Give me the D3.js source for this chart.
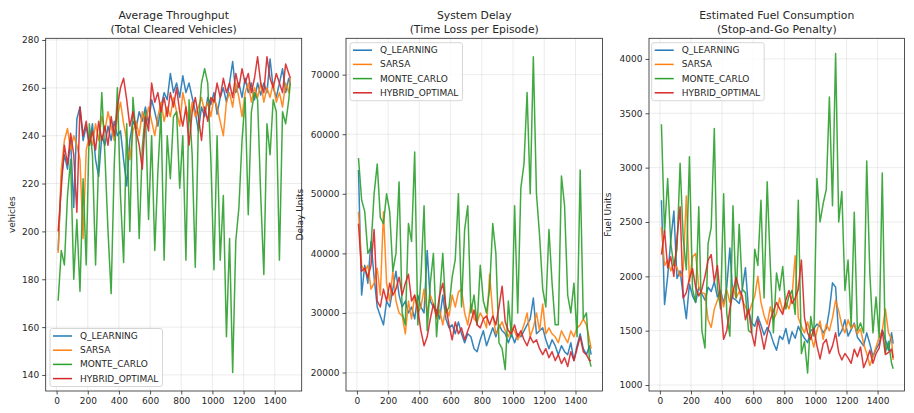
<!DOCTYPE html>
<html>
<head>
<meta charset="utf-8">
<script src="https://cdn.jsdelivr.net/npm/d3@7"></script>
<style>
  body { margin: 0; background: #fff; }
  svg { display: block; }
  text { font-family: "DejaVu Sans", sans-serif; fill: #262626; }
</style>
</head>
<body>
<svg id="chart" width="914" height="413"></svg>
<script>
// ------------- DATA (every 20 episodes) ------------- //
var episodes = [10, 30, 50, 70, 90, 110, 130, 150, 170, 190, 210, 230, 250, 270, 290, 310, 330, 350, 370, 390,
  410, 430, 450, 470, 490, 510, 530, 550, 570, 590, 610, 630, 650, 670, 690, 710, 730, 750, 770, 790,
  810, 830, 850, 870, 890, 910, 930, 950, 970, 990, 1010, 1030, 1050, 1070, 1090, 1110, 1130, 1150, 1170, 1190,
  1210, 1230, 1250, 1270, 1290, 1310, 1330, 1350, 1370, 1390, 1410, 1430, 1450, 1470, 1490, 1500];

var agents = ["Q_LEARNING", "SARSA", "MONTE_CARLO", "HYBRID_OPTIMAL"];
var agentColors = ["#1f77b4", "#ff7f0e", "#2ca02c", "#d62728"];

var throughputQ = [192, 222, 232, 226, 238, 210, 247, 252, 238, 244, 236, 245, 230, 223, 240, 236, 244, 238, 246, 240,
  242, 230, 219, 238, 246, 243, 250, 246, 252, 245, 255, 250, 244, 252, 258, 255, 266, 258, 262, 256,
  265, 258, 262, 256, 250, 242, 252, 248, 256, 253, 258, 249, 256, 260, 254, 262, 271, 258, 262, 256,
  264, 258, 262, 255, 262, 257, 262, 258, 272, 260, 256, 262, 268, 258, 264, 262];
var throughputSarsa = [191, 226, 238, 243, 234, 240, 236, 230, 197, 234, 240, 236, 245, 238, 248, 242, 250, 244, 238, 248,
  254, 245, 238, 230, 242, 246, 240, 250, 244, 252, 246, 240, 248, 254, 246, 252, 248, 256, 250, 244,
  258, 252, 246, 254, 248, 252, 256, 250, 254, 248, 256, 252, 246, 240, 254, 258, 252, 262, 256, 248,
  258, 262, 254, 260, 256, 262, 254, 260, 256, 262, 254, 258, 252, 262, 258, 264];
var throughputMC = [171, 192, 186, 215, 230, 180, 205, 175, 222, 186, 245, 232, 186, 230, 258, 232, 200, 174, 228, 260,
  215, 187, 245, 200, 256, 240, 197, 235, 250, 205, 240, 192, 225, 250, 188, 240, 222, 248, 250, 218,
  240, 188, 255, 232, 185, 245, 262, 268, 262, 230, 184, 240, 188, 215, 156, 197, 141, 196, 210, 238,
  256, 207, 250, 258, 255, 215, 182, 245, 232, 255, 250, 188, 250, 245, 255, 262];
var throughputHybrid = [200, 218, 236, 228, 241, 232, 208, 252, 240, 246, 236, 242, 234, 246, 238, 244, 236, 248, 240, 252,
  260, 264, 255, 244, 250, 242, 236, 226, 248, 242, 262, 254, 258, 250, 256, 248, 258, 252, 260, 250,
  244, 252, 236, 250, 256, 248, 238, 252, 246, 256, 254, 262, 256, 264, 258, 262, 256, 266, 260, 268,
  262, 266, 258, 264, 273, 262, 258, 273, 264, 260, 266, 262, 258, 270, 266, 264];

var delayQ = [54000, 33000, 38000, 35000, 42000, 36000, 31000, 29500, 28000, 32000, 31000, 34000, 37000, 33000, 31000, 32000, 30000, 31000, 29000, 33000,
  31000, 30000, 40500, 32000, 31000, 30500, 29000, 33000, 29000, 27500, 28000, 26500, 28500, 26500, 25000, 26500, 26000, 24000, 23500, 25500,
  27000, 24500, 26000, 27500, 26000, 28000, 27000, 26500, 25000, 26500, 25000, 26500, 26000, 27000, 28000, 29000, 32500, 26500, 27000, 27500,
  25500, 24000, 25500, 24500, 23000, 24500, 23500, 23000, 25000, 22000, 24500, 26500, 24000, 23000, 24500, 23000];
var delaySarsa = [47000, 38000, 37000, 38000, 34000, 35000, 37500, 33000, 47000, 35000, 32000, 37000, 32000, 30000, 29500, 26500, 32000, 29000, 33000, 30000,
  31000, 34000, 30000, 33000, 31500, 29000, 30500, 28000, 31000, 29500, 33000, 31000, 33500, 34000, 30000, 28000, 31500, 29000, 28500, 30000,
  29000, 27500, 36500, 30000, 26500, 27500, 28500, 27000, 26000, 27500, 27000, 25500, 26500, 28000, 30000, 26000, 27500, 30000, 27000, 31500,
  26500, 27500, 26500, 26000, 25000, 27000, 26000, 25000, 27000, 26000, 27500, 28000, 29000, 28000, 25500, 24000];
var delayMC = [56000, 49000, 47000, 40000, 41000, 50000, 55000, 46000, 45000, 50000, 47000, 37000, 40000, 52000, 30000, 28000, 45000, 42000, 57000, 28000,
  36000, 48000, 27000, 35000, 40000, 26000, 33000, 40000, 30000, 31000, 36000, 39000, 50000, 31000, 44000, 48000, 30000, 33000, 28000, 38000,
  32000, 30000, 34000, 45000, 40000, 25000, 24000, 20500, 32000, 26000, 48000, 30000, 51000, 55000, 67000, 50000, 73000, 50000, 43000, 34000,
  31000, 44000, 35000, 28000, 28000, 53000, 48000, 33000, 30000, 35000, 26000, 54000, 29000, 30000, 22000, 21000];
var delayHybrid = [45000, 37000, 37500, 36000, 38000, 44000, 32000, 31000, 34000, 32000, 35000, 33000, 34000, 36000, 33000, 35000, 36500, 32000, 33000, 30500,
  27000, 24500, 26000, 29000, 31500, 29500, 33000, 35000, 31000, 28000, 25500, 28500, 26500, 27500, 25500, 27000, 28500, 30500, 28000, 27500,
  29000, 29500, 28000, 29500, 28000, 31000, 34500, 28500, 27000, 26500, 28000, 26000, 27000, 25500, 24500, 26000, 25000, 25500, 24000, 23000,
  24000, 22500, 23500, 22000, 23000, 21500, 22500, 21000, 23500, 22000, 24000, 26000, 23500, 23000, 22000, 22000];

var fuelQ = [2700, 1740, 2000, 2330, 2600, 1980, 2050, 1820, 1610, 1930, 1820, 1760, 1900, 1840, 1780, 1900, 1860, 1950, 1810, 1870,
  1750, 1900, 2260, 1800, 1780, 1750, 1880, 2080, 1690, 1570, 1540, 1630, 1550, 1460, 1530, 1480, 1390, 1320, 1450, 1420,
  1520, 1380, 1490, 1430, 1540, 1480, 1430, 1390, 1500, 1520, 1560, 1540, 1480, 1520, 1690, 1940, 1900, 1450, 1500, 1600,
  1450, 1510, 1570, 1440, 1400, 1360, 1480, 1380, 1260, 1330, 1380, 1510, 1420, 1320, 1480, 1380];
var fuelSarsa = [2450, 2100, 2150, 2050, 2120, 2080, 2000, 2060, 2740, 1950, 2180, 2210, 1900, 1850, 1840, 1600, 1530, 1700, 1780, 1850,
  1720, 1880, 1760, 1900, 1800, 1860, 1780, 1720, 1650, 1740, 1820, 2000, 1760, 1640, 1560, 1720, 1600, 1660, 1800, 1680,
  1760, 1700, 1820, 2190, 1620, 1540, 1480, 1580, 1460, 1350, 1500, 1590, 1420, 1560, 1500, 1620, 1780, 1680, 1550, 1480,
  1600, 1520, 1560, 1470, 1520, 1380, 1290, 1180, 1260, 1350, 1440, 1500, 1700, 1480, 1420, 1230];
var fuelMC = [3400, 2400, 2900, 2300, 2100, 2250, 3040, 2350, 2060, 3100, 1880, 1760, 2640, 1500, 1340, 2300, 2450, 3360, 1900, 1700,
  2760, 1660, 1450, 2650, 1800, 2480, 1880, 1850, 1500, 1480, 2250, 2100, 2700, 1800, 2870, 2100, 1480, 2030, 1870, 2090,
  1700, 1820, 1870, 1650, 2700, 1290, 1400, 1110, 1630, 1450, 2900, 2500, 2670, 2800, 3650, 2650, 4050, 2500, 2780, 1870,
  2150, 1540, 2590, 1500, 1570, 1480, 3060, 2030, 1480, 1810, 1440, 2950, 1300, 1400, 1200, 1150];
var fuelHybrid = [2200, 2420, 2080, 2180, 2000, 2350, 2640, 1800, 1850, 1980, 2070, 1900, 1820, 1880, 2000, 2150, 2200, 1950, 2100, 1780,
  1420, 1500, 1700, 1850, 1990, 1880, 1820, 1600, 1700, 1480, 1360, 1600, 1480, 1330, 1470, 1600, 1680, 1760, 1700, 1650,
  1780, 1870, 1750, 1800, 1880, 2150, 1620, 1480, 1420, 1520, 1360, 1240, 1380, 1420, 1290, 1360, 1480, 1300, 1230, 1290,
  1250, 1200, 1330, 1260, 1350, 1160, 1230, 1320, 1200, 1290, 1340, 1500, 1280, 1300, 1330, 1250];

var episodeTicks = [0, 200, 400, 600, 800, 1000, 1200, 1400];
var throughputTicks = [140, 160, 180, 200, 220, 240, 260, 280];
var delayTicks = [20000, 30000, 40000, 50000, 60000, 70000];
var fuelTicks = [1000, 1500, 2000, 2500, 3000, 3500, 4000];


// ------------- LAYOUT ------------- //
var svg = d3.select("#chart");
var top_ = 38.3, bottom = 391;

var panels = [
  { title: ["Average Throughput", "(Total Cleared Vehicles)"], ylabel: "vehicles", ylabelX: 11.7,
    left: 45.7, right: 301.7, yDomain: [133.3, 280.7], yTicks: throughputTicks,
    series: [throughputQ, throughputSarsa, throughputMC, throughputHybrid], legend: { x: 50, y: 328.5 } },
  { title: ["System Delay", "(Time Loss per Episode)"], ylabel: "Delay Units", ylabelX: 300,
    left: 346, right: 602.5, yDomain: [16900, 76100], yTicks: delayTicks,
    series: [delayQ, delaySarsa, delayMC, delayHybrid], legend: { x: 350, y: 42.7 } },
  { title: ["Estimated Fuel Consumption", "(Stop-and-Go Penalty)"], ylabel: "Fuel Units", ylabelX: 608,
    left: 649, right: 904.5, yDomain: [945, 4190], yTicks: fuelTicks,
    series: [fuelQ, fuelSarsa, fuelMC, fuelHybrid], legend: { x: 651.7, y: 42.7 } }
];

panels.forEach(function(p, pi) {
  var x = d3.scaleLinear().domain([-70, 1573]).range([p.left, p.right]);
  var y = d3.scaleLinear().domain(p.yDomain).range([bottom, top_]);
  var g = svg.append("g");

  // grid
  g.selectAll(".gx").data(episodeTicks).enter().append("line")
    .attr("x1", function(d) { return x(d); }).attr("x2", function(d) { return x(d); })
    .attr("y1", top_).attr("y2", bottom)
    .attr("stroke", "#b0b0b0").attr("stroke-opacity", 0.3).attr("stroke-width", 0.8);
  g.selectAll(".gy").data(p.yTicks).enter().append("line")
    .attr("x1", p.left).attr("x2", p.right)
    .attr("y1", function(d) { return y(d); }).attr("y2", function(d) { return y(d); })
    .attr("stroke", "#b0b0b0").attr("stroke-opacity", 0.3).attr("stroke-width", 0.8);

  // lines
  var clipId = "clip" + pi;
  svg.append("clipPath").attr("id", clipId).append("rect")
    .attr("x", p.left).attr("y", top_).attr("width", p.right - p.left).attr("height", bottom - top_);
  var line = d3.line()
    .x(function(d, i) { return x(episodes[i]); })
    .y(function(d) { return y(d); });
  p.series.forEach(function(s, si) {
    g.append("path").datum(s)
      .attr("clip-path", "url(#" + clipId + ")")
      .attr("d", line)
      .attr("fill", "none")
      .attr("stroke", agentColors[si])
      .attr("stroke-width", 1.5)
      .attr("stroke-opacity", 0.9)
      .attr("stroke-linejoin", "round");
  });

  // axes
  var xAxis = d3.axisBottom(x).tickValues(episodeTicks).tickFormat(d3.format("d")).tickSize(3.5).tickPadding(3);
  var yAxis = d3.axisLeft(y).tickValues(p.yTicks).tickFormat(d3.format("d")).tickSize(3.5).tickPadding(3);
  var gx = g.append("g").attr("transform", "translate(0," + bottom + ")").call(xAxis);
  var gy = g.append("g").attr("transform", "translate(" + p.left + ",0)").call(yAxis);
  [gx, gy].forEach(function(a) {
    a.select(".domain").remove();
    a.selectAll("line").attr("stroke", "#262626").attr("stroke-width", 0.8);
    a.selectAll("text").style("font-size", "9px").style("font-family", "DejaVu Sans").attr("fill", "#262626");
  });

  // frame
  g.append("rect").attr("x", p.left).attr("y", top_)
    .attr("width", p.right - p.left).attr("height", bottom - top_)
    .attr("fill", "none").attr("stroke", "#262626").attr("stroke-width", 0.8);

  // title
  var cx = (p.left + p.right) / 2;
  p.title.forEach(function(t, ti) {
    g.append("text").attr("x", cx).attr("y", 19 + ti * 13.5)
      .attr("text-anchor", "middle").style("font-size", "10.8px").text(t);
  });

  // y label
  g.append("text")
    .attr("transform", "translate(" + p.ylabelX + "," + ((top_ + bottom) / 2) + ") rotate(-90)")
    .attr("text-anchor", "middle").attr("dominant-baseline", "central")
    .style("font-size", "9px").text(p.ylabel);

  // legend
  var lg = g.append("g").attr("transform", "translate(" + p.legend.x + "," + p.legend.y + ")");
  lg.append("rect").attr("width", 112.5).attr("height", 58).attr("rx", 2.5)
    .attr("fill", "#fff").attr("fill-opacity", 0.8)
    .attr("stroke", "#cccccc").attr("stroke-width", 0.8);
  agents.forEach(function(a, ai) {
    var ry = 7.5 + ai * 14.2;
    lg.append("line").attr("x1", 3).attr("x2", 22).attr("y1", ry).attr("y2", ry)
      .attr("stroke", agentColors[ai]).attr("stroke-width", 1.5);
    lg.append("text").attr("x", 30).attr("y", ry).attr("dominant-baseline", "central")
      .style("font-size", "9px").text(a);
  });
});
</script>
</body>
</html>
